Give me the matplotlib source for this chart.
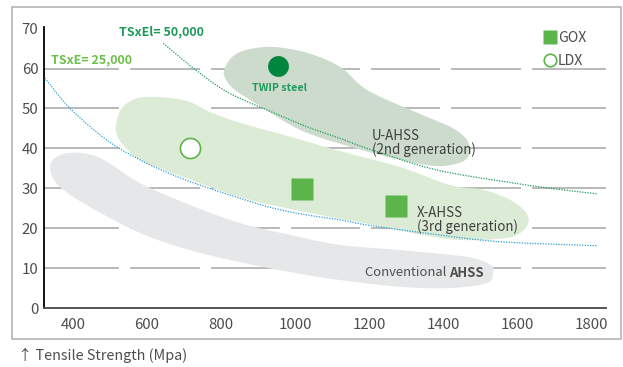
import numpy as np
import matplotlib
matplotlib.use("Agg")
import matplotlib.pyplot as plt
from matplotlib.patches import Polygon, Rectangle
from matplotlib.lines import Line2D

plt.rcParams["font.family"] = ["Noto Sans CJK KR", "DejaVu Sans"]

# ── steel families: outline of each region (tensile strength MPa, elongation %) ──
CONV_TS = [338, 351, 400, 473, 581, 716, 851, 987, 1122, 1284, 1465, 1527, 1535,
           1519, 1419, 1284, 1122, 987, 851, 716, 581, 446, 365]
CONV_EL = [34.6, 37.6, 38.9, 37.6, 31.3, 25.8, 21.3, 18.3, 15.8, 14.5, 12.8, 10.8, 9.0,
           6.3, 5.0, 5.3, 7.0, 9.0, 11.5, 14.5, 18.8, 25.3, 30.3]

XAHSS_TS = [516, 532, 568, 608, 662, 716, 770, 851, 987, 1122, 1284, 1419, 1508, 1581,
            1622, 1630, 1608, 1568, 1465, 1373, 1195, 1014, 851, 670, 581, 535, 519]
XAHSS_EL = [45.9, 50.1, 52.4, 52.9, 52.6, 51.6, 49.1, 46.4, 42.9, 39.3, 35.3, 30.8, 29.6,
            27.1, 24.1, 21.3, 18.8, 17.5, 17.0, 17.8, 21.1, 24.3, 27.8, 33.8, 37.1, 40.9, 43.4]

UAHSS_TS = [808, 830, 870, 941, 1033, 1122, 1195, 1330, 1419, 1460, 1473, 1460, 1419,
            1373, 1284, 1149, 1014, 897, 838, 814]
UAHSS_EL = [59.6, 62.9, 64.7, 65.4, 63.9, 60.4, 54.6, 48.9, 45.4, 42.6, 39.6, 37.1, 35.8,
            35.6, 37.1, 40.4, 44.6, 51.1, 54.6, 57.1]

# ── iso-product guide curves ──────────────────────────────────────────────────
ISO50_TS = [644, 725, 815, 924, 1032, 1122, 1194, 1373, 1554, 1689, 1816]
ISO50_EL = [66.3, 60.1, 54.2, 49.6, 45.4, 42.5, 40.0, 34.8, 31.8, 30.0, 28.6]
ISO25_TS = [324, 392, 491, 581, 671, 761, 851, 941, 1032, 1122, 1194, 1374, 1554, 1816]
ISO25_EL = [57.6, 50.0, 42.1, 37.1, 33.3, 30.2, 27.5, 25.0, 23.3, 22.1, 20.8, 18.5,
            16.6, 15.6]

# ── grades ───────────────────────────────────────────────────────────────────
TWIP_TS, TWIP_EL = 955, 60.6
LDX_TS, LDX_EL = 717, 40.2
GOX_TS = [1019, 1273]
GOX_EL = [29.8, 25.6]

X_TICKS = [400, 600, 800, 1000, 1200, 1400, 1600, 1800]
Y_TICKS = [0, 10, 20, 30, 40, 50, 60, 70]

GRAY_TXT = "#4d4d4d"
GREEN = "#5bb54a"
DARK_GREEN = "#00873e"


def catmull_rom(xs, ys, closed=False, n=16):
    """Smooth curve through the given points (uniform Catmull-Rom)."""
    p = np.column_stack([xs, ys]).astype(float)
    if closed:
        p = np.vstack([p[-1], p, p[0], p[1]])
    else:
        p = np.vstack([p[0], p, p[-1]])
    t = np.linspace(0, 1, n, endpoint=False)[:, None]
    out = []
    for i in range(1, len(p) - 2):
        p0, p1, p2, p3 = p[i - 1], p[i], p[i + 1], p[i + 2]
        seg = 0.5 * ((2 * p1) + (-p0 + p2) * t + (2 * p0 - 5 * p1 + 4 * p2 - p3) * t ** 2
                     + (-p0 + 3 * p1 - 3 * p2 + p3) * t ** 3)
        out.append(seg)
    out.append(p[-2][None, :])
    return np.vstack(out)


fig = plt.figure(figsize=(6.23, 3.67), dpi=100)
ax = fig.add_axes([44 / 623, 59 / 367, 562 / 623, 281 / 367])
ax.set_xlim(321.6, 1840)
ax.set_ylim(0, 70.4)

# horizontal grid, broken into seven runs
for y in Y_TICKS[1:-1]:
    ax.axhline(y, color="#b3b3b3", lw=1.3, zorder=1)
for k in range(1, 7):
    ax.plot([k / 7, k / 7], [0.005, 1], transform=ax.transAxes, color="white",
            lw=8, solid_capstyle="butt", zorder=1.5)

# regions
for ts, el, fc in [(CONV_TS, CONV_EL, "#e6e7e8"),
                   (XAHSS_TS, XAHSS_EL, "#dcebd5"),
                   (UAHSS_TS, UAHSS_EL, "#cddbcd")]:
    pts = catmull_rom(ts, el, closed=True)
    ax.add_patch(Polygon(pts, closed=True, fc=fc, ec="none", zorder=2))

# guide curves
c50 = catmull_rom(ISO50_TS, ISO50_EL)
c25 = catmull_rom(ISO25_TS, ISO25_EL)
ax.plot(c50[:, 0], c50[:, 1], color="#1e9a5a", lw=0.9, ls=(0, (1, 1.1)), zorder=3)
ax.plot(c25[:, 0], c25[:, 1], color="#2b9fd9", lw=0.9, ls=(0, (1, 1.1)), zorder=3)

# grade markers
ax.plot(TWIP_TS, TWIP_EL, "o", ms=15, color=DARK_GREEN, mec="none", zorder=4)
ax.plot(LDX_TS, LDX_EL, "o", ms=14.5, mfc="white", mec=GREEN, mew=1.2, zorder=4)
ax.plot(GOX_TS, GOX_EL, "s", ms=15.5, color=GREEN, mec="none", zorder=4, ls="none")

# labels
ax.text(524, 69.3, "TSxEl= 50,000", color="#1e9a5a", fontsize=9, fontweight="bold",
        va="center", ha="left", clip_on=False)
ax.text(340, 62.2, "TSxE= 25,000", color="#6cc04a", fontsize=9, fontweight="bold",
        va="center", ha="left")
ax.text(957, 55.1, "TWIP steel", color="#1e9a5a", fontsize=7.6, fontweight="bold",
        va="center", ha="center", zorder=5)
ax.text(1208, 41.3, "U-AHSS\n(2nd generation)", color="#404040", fontsize=9.6,
        va="center", ha="left", linespacing=0.95, zorder=5)
ax.text(1330, 22.1, "X-AHSS\n(3rd generation)", color="#404040", fontsize=9.6,
        va="center", ha="left", linespacing=0.95, zorder=5)
t1 = ax.text(1189, 8.8, "Conventional ", color=GRAY_TXT, fontsize=9.4,
             va="center", ha="left", zorder=5)
fig.canvas.draw()
bb = t1.get_window_extent().transformed(ax.transData.inverted())
ax.text(bb.x1, 8.8, "AHSS", color=GRAY_TXT, fontsize=9.4, fontweight="bold",
        va="center", ha="left", zorder=5)

# legend
handles = [Line2D([], [], marker="s", ls="none", ms=10, color=GREEN, mec="none"),
           Line2D([], [], marker="o", ls="none", ms=9, mfc="white", mec=GREEN, mew=1.2)]
leg = ax.legend(handles, ["GOX", "LDX"], loc="upper left", bbox_to_anchor=(0.877, 1.01),
                frameon=False, fontsize=10.2, handlelength=0.8, handletextpad=0.2,
                labelspacing=0.6, borderpad=0)
for t in leg.get_texts():
    t.set_color(GRAY_TXT)

# axes styling
for side in ["top", "right"]:
    ax.spines[side].set_visible(False)
ax.spines["left"].set_color("black")
ax.spines["left"].set_linewidth(1.3)
ax.spines["bottom"].set_color("#555555")
ax.spines["bottom"].set_linewidth(1.4)
ax.set_xticks(X_TICKS)
ax.set_yticks(Y_TICKS)
ax.tick_params(length=0, labelsize=10.8, labelcolor=GRAY_TXT)
ax.tick_params(axis="x", pad=7)
ax.tick_params(axis="y", pad=4)

fig.add_artist(Rectangle((12 / 623, 28 / 367), 609 / 623, 332 / 367,
                         transform=fig.transFigure, fill=False, ec="#b4b4b4", lw=1.2))
fig.text(18 / 623, 12 / 367, "↑ Tensile Strength (Mpa)", color=GRAY_TXT, fontsize=10.3,
         va="center", ha="left", family=["Noto Sans CJK KR", "DejaVu Sans"])

fig.savefig("out.png", dpi=100)
